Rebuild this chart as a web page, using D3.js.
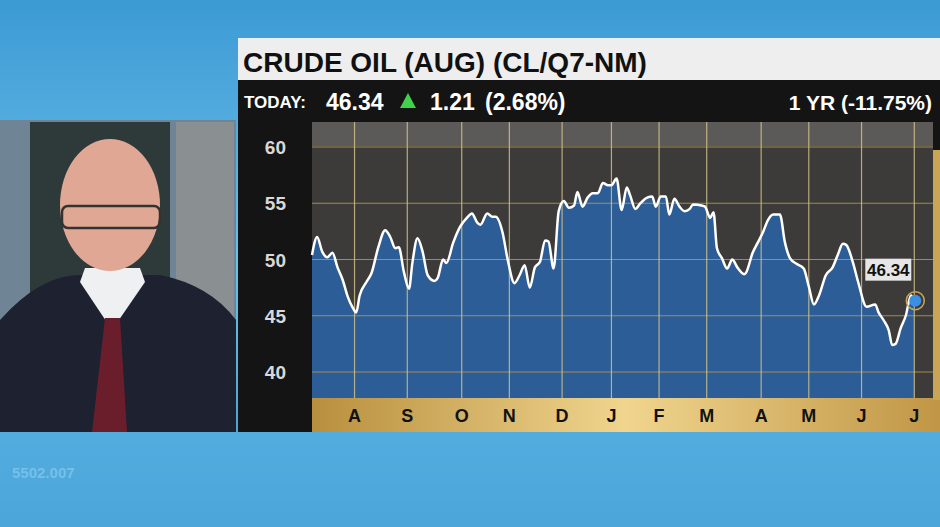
<!DOCTYPE html>
<html>
<head>
<meta charset="utf-8">
<script src="https://cdn.jsdelivr.net/npm/d3@7"></script>
<style>
  body { margin: 0; background: #4aa3d8; overflow: hidden; }
  text { font-family: "Liberation Sans Narrow", "Liberation Sans", Arial, sans-serif; font-weight: bold; }
</style>
</head>
<body>
<script>
// day offsets from start of window (about Jul 6 2016) and closing price
const days = [0,3,6,9,12,15,18,21,24,26,28,32,35,39,43,46,49,51,54,57,59,62,65,68,72,74,77,79,83,87,91,94,97,99,103,106,108,112,115,119,122,125,128,131,134,137,139,142,145,148,151,154,156,159,162,165,168,171,174,176,179,182,185,187,190,193,197,200,202,205,208,210,213,216,219,222,224,229,231,234,236,238,241,244,247,250,254,255,259,262,265,268,271,275,278,281,285,289,292,295,298,302,306,309,312,314,318,321,326,331,333,336,339,341,343,346,349,352,354];
const prices = [50.4,52.0,50.7,50.2,50.6,49.3,48.2,46.7,45.7,45.3,46.8,48.0,48.8,51.1,52.6,52.0,51.0,51.1,48.9,47.4,49.7,51.9,50.7,48.6,48.1,48.4,50.0,49.7,51.5,52.9,53.7,54.1,53.3,53.1,54.1,53.8,53.8,52.4,50.0,47.9,48.6,49.5,47.5,49.3,49.8,51.7,51.6,49.2,54.3,55.2,54.6,54.8,56.0,54.7,55.5,55.9,55.9,56.8,56.6,56.6,57.2,54.4,56.4,55.7,54.5,55.0,55.5,55.6,54.7,55.6,55.6,54.0,55.4,54.7,54.3,54.5,54.9,54.8,54.7,53.7,54.2,51.0,50.1,49.2,50.0,49.3,48.7,48.8,50.6,51.5,52.4,53.5,54.0,54.0,51.5,50.1,49.6,49.2,47.6,46.0,46.8,48.6,49.3,50.4,51.4,51.3,49.7,48.0,45.8,46.0,45.3,44.6,43.7,42.4,42.5,43.9,45.0,46.8,46.34];
const monthLabels = ["A","S","O","N","D","J","F","M","A","M","J","J"];
const monthDays = [25,56,88,116,147,176,204,232,264,292,323,354];
const yTicks = [40,45,50,55,60];

const W = 940, H = 527;
const svg = d3.select("body").append("svg").attr("width", W).attr("height", H);
const defs = svg.append("defs");

// studio background
const bg = defs.append("linearGradient").attr("id", "bg").attr("x1", 0).attr("y1", 0).attr("x2", 0).attr("y2", 1);
bg.append("stop").attr("offset", "0%").attr("stop-color", "#3c9ad4");
bg.append("stop").attr("offset", "50%").attr("stop-color", "#6cc0ea");
bg.append("stop").attr("offset", "100%").attr("stop-color", "#3b93cc");
svg.append("rect").attr("width", W).attr("height", H).attr("fill", "url(#bg)");
svg.append("rect").attr("x", 0).attr("y", 432).attr("width", W).attr("height", 95).attr("fill", "#58b2e2").attr("opacity", 0.6);
svg.append("text").attr("x", 12).attr("y", 478).text("5502.007").attr("fill", "#8fd0f2").attr("font-size", 15).attr("opacity", 0.6);

// presenter panel (rough)
const p = svg.append("g");
p.append("rect").attr("x", 0).attr("y", 120).attr("width", 236).attr("height", 312).attr("fill", "#6f8596");
p.append("rect").attr("x", 30).attr("y", 122).attr("width", 140).attr("height", 180).attr("fill", "#2e3a3a");
p.append("rect").attr("x", 176).attr("y", 122).attr("width", 58).attr("height", 310).attr("fill", "#8a8f92");
p.append("path").attr("d", "M0,320 Q40,275 80,275 L160,275 Q210,285 236,320 L236,432 L0,432 Z").attr("fill", "#1d2130");
p.append("path").attr("d", "M80,282 L112,330 L145,282 L140,268 L85,268 Z").attr("fill", "#eef0f2");
p.append("path").attr("d", "M105,318 L120,318 L127,432 L92,432 Z").attr("fill", "#6a1e2c");
p.append("ellipse").attr("cx", 110).attr("cy", 205).attr("rx", 50).attr("ry", 66).attr("fill", "#e0a894");
p.append("rect").attr("x", 62).attr("y", 206).attr("width", 98).attr("height", 22).attr("rx", 6).attr("fill", "none").attr("stroke", "#333").attr("stroke-width", 2.5);

// title bar
svg.append("rect").attr("x", 238).attr("y", 38).attr("width", 702).attr("height", 42).attr("fill", "#eeeeee");
svg.append("text").attr("x", 243).attr("y", 72).text("CRUDE OIL (AUG) (CL/Q7-NM)").attr("font-size", 28).attr("fill", "#111");
svg.append("rect").attr("x", 238).attr("y", 80).attr("width", 702).attr("height", 40).attr("fill", "#141414");
svg.append("text").attr("x", 244).attr("y", 108).text("TODAY:").attr("font-size", 17).attr("fill", "#fff");
svg.append("text").attr("x", 326).attr("y", 110).text("46.34").attr("font-size", 23).attr("fill", "#fff");
svg.append("path").attr("d", "M400,108 L408,93 L416,108 Z").attr("fill", "#3fd24a");
svg.append("text").attr("x", 430).attr("y", 110).text("1.21").attr("font-size", 23).attr("fill", "#fff");
svg.append("text").attr("x", 485).attr("y", 110).text("(2.68%)").attr("font-size", 23).attr("fill", "#fff");
svg.append("text").attr("x", 932).attr("y", 110).attr("text-anchor", "end").text("1 YR (-11.75%)").attr("font-size", 21).attr("fill", "#fff");

// chart panel
const plot = { left: 312, right: 933, top: 122, bottom: 398 };
svg.append("rect").attr("x", 238).attr("y", 120).attr("width", 702).attr("height", 312).attr("fill", "#141414");
svg.append("rect").attr("x", plot.left).attr("y", plot.top).attr("width", plot.right - plot.left).attr("height", plot.bottom - plot.top).attr("fill", "#3d3b39");
svg.append("rect").attr("x", plot.left).attr("y", plot.top).attr("width", plot.right - plot.left).attr("height", 24).attr("fill", "#5c5a58");

const x = d3.scaleLinear().domain([0, 365]).range([plot.left, plot.right]);
const y = d3.scaleLinear().domain([40, 60]).range([372, 147]);

const area = d3.area().x((d, i) => x(days[i])).y0(plot.bottom).y1(d => y(d)).curve(d3.curveMonotoneX);
const line = d3.line().x((d, i) => x(days[i])).y(d => y(d)).curve(d3.curveMonotoneX);

svg.append("path").datum(prices).attr("d", area).attr("fill", "#2c5d96");

// grid
svg.append("g").selectAll("line").data(yTicks).join("line")
  .attr("x1", plot.left).attr("x2", plot.right).attr("y1", d => y(d)).attr("y2", d => y(d))
  .attr("stroke", "#b59a4e").attr("stroke-width", 1.2).attr("opacity", 0.85);
svg.append("g").selectAll("line").data(monthDays).join("line")
  .attr("x1", d => x(d)).attr("x2", d => x(d)).attr("y1", plot.top).attr("y2", plot.bottom)
  .attr("stroke", "#d8c88a").attr("stroke-width", 1.2).attr("opacity", 0.8);

svg.append("path").datum(prices).attr("d", line).attr("fill", "none").attr("stroke", "#fff").attr("stroke-width", 2.5);

// y labels
svg.append("g").selectAll("text").data(yTicks).join("text")
  .attr("x", 286).attr("y", d => y(d) + 7).attr("text-anchor", "end")
  .attr("font-size", 19).attr("fill", "#d8d8d8").text(d => d);

// gold month band
const gold = defs.append("linearGradient").attr("id", "gold").attr("x1", 0).attr("y1", 0).attr("x2", 1).attr("y2", 0);
gold.append("stop").attr("offset", "0%").attr("stop-color", "#b88f3e");
gold.append("stop").attr("offset", "50%").attr("stop-color", "#f0d58e");
gold.append("stop").attr("offset", "100%").attr("stop-color", "#c09645");
svg.append("rect").attr("x", plot.left).attr("y", plot.bottom).attr("width", 628).attr("height", 34).attr("fill", "url(#gold)");
svg.append("rect").attr("x", plot.right).attr("y", 150).attr("width", 7).attr("height", 250).attr("fill", "#c9a556");
svg.append("g").selectAll("text").data(monthLabels).join("text")
  .attr("x", (d, i) => x(monthDays[i])).attr("y", 422).attr("text-anchor", "middle")
  .attr("font-size", 18).attr("fill", "#111").text(d => d);

// last value marker
const lx = x(days[days.length - 1]), ly = y(prices[prices.length - 1]);
svg.append("circle").attr("cx", lx + 1).attr("cy", ly).attr("r", 9).attr("fill", "none").attr("stroke", "#c9a556").attr("stroke-width", 1.5);
svg.append("circle").attr("cx", lx + 1).attr("cy", ly).attr("r", 6).attr("fill", "#3b8ee0");
svg.append("rect").attr("x", lx - 49).attr("y", ly - 42).attr("width", 46).attr("height", 22).attr("fill", "#e6e6e6");
svg.append("text").attr("x", lx - 26).attr("y", ly - 25).attr("text-anchor", "middle").attr("font-size", 17).attr("fill", "#111").text(prices[prices.length - 1].toFixed(2));
</script>
</body>
</html>
